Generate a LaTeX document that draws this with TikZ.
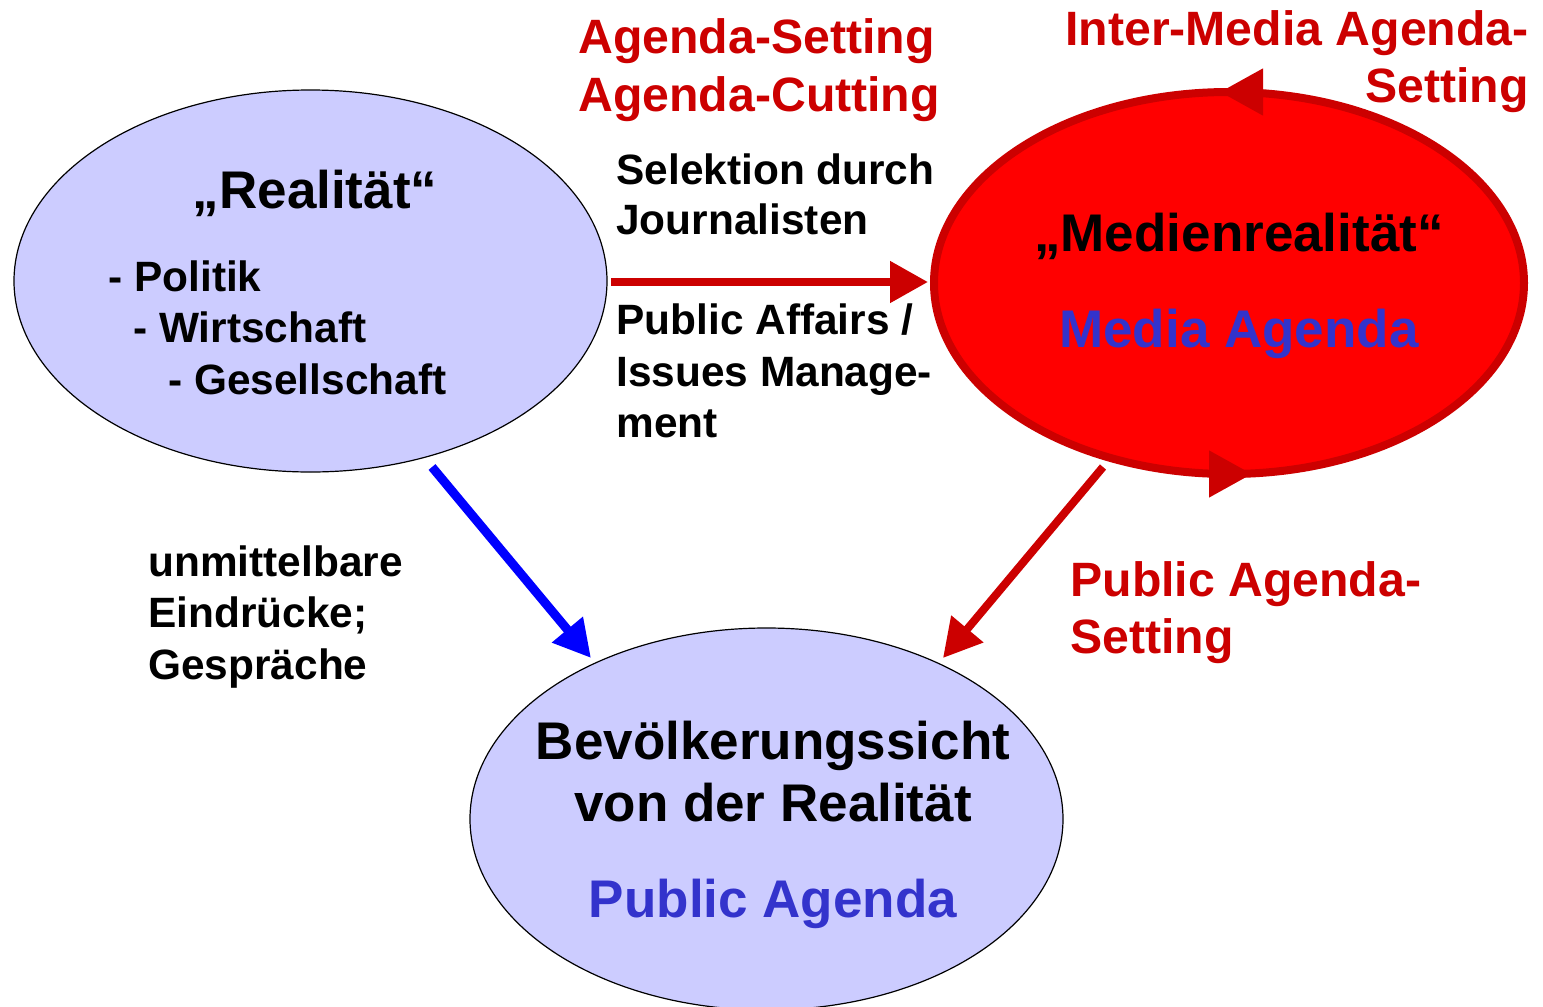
\documentclass[tikz,border=0pt]{standalone}
\usepackage{fontspec}
\setmainfont{Liberation Sans}
\usetikzlibrary{shapes.geometric,arrows.meta}
\definecolor{lav}{HTML}{CCCCFF}
\definecolor{dred}{HTML}{CC0000}
\definecolor{bred}{HTML}{FF0000}
\definecolor{tblue}{HTML}{3333CC}
\definecolor{abl}{HTML}{0000FF}
\begin{document}
\begin{tikzpicture}[x=0.5pt,y=-0.5pt,
  lbl/.style={font=\fontsize{21.2}{25}\selectfont\bfseries, inner sep=0, anchor=base west},
  rlbl/.style={font=\fontsize{24.1}{29}\selectfont\bfseries, text=dred, inner sep=0},
  big/.style={font=\fontsize{26.5}{31}\selectfont\bfseries, inner sep=0, anchor=base},
  oval/.style={ellipse, draw=black, line width=0.6pt, fill=lav, minimum width=296.5pt, minimum height=191pt, inner sep=0},
  medoval/.style={ellipse, draw=dred, line width=4pt, fill=bred, minimum width=295pt, minimum height=191pt, inner sep=0},
  redarrow/.style={draw=dred, line width=4pt, -{Triangle[length=19pt,width=20pt]}},
  bluearrow/.style={draw=abl, line width=4.5pt, -{Triangle[length=18.5pt,width=19pt]}},
  looparrow/.style={draw=dred, line width=4pt, -{Triangle[length=21.5pt,width=22.5pt]}}
]
\useasboundingbox (0,0) rectangle (1543,1007);
\clip (0,0) rectangle (1543,1007);

% ellipses
\node[oval] (real) at (310.5,281) {};
\node[oval] (pop) at (766.5,819) {};
\node[medoval] (med) at (1229,283) {};

% loop arrowheads on media ellipse
\draw[looparrow] ([shift={(34,-191)}]med.center) -- ([shift={(-9,-191)}]med.center);
\draw[looparrow] ([shift={(-18,191)}]med.center) -- ([shift={(23,191)}]med.center);

% connectors
\draw[redarrow] ([shift={(300.5,1)}]real.center) -- ([shift={(-301,-1)}]med.center);
\draw[bluearrow] ([shift={(121.5,186)}]real.center) -- ([shift={(-175.5,-161)}]pop.center);
\draw[redarrow] ([shift={(-126,184)}]med.center) -- ([shift={(176.5,-161)}]pop.center);

% red labels
\node[rlbl, anchor=base west] (as) at (578,53) {Agenda-Setting};
\node[rlbl, anchor=base west] (ac) at (578,111) {Agenda-Cutting};
\node[rlbl, anchor=base east] (im1) at (1529,45) {Inter-Media Agenda-};
\node[rlbl, anchor=base east] (im2) at (1529,102) {Setting};
\node[rlbl, anchor=base west] (pa1) at (1070,596) {Public Agenda-};
\node[rlbl, anchor=base west] (pa2) at (1070,653) {Setting};

% black labels
\node[lbl] (s1) at (616,184) {Selektion durch};
\node[lbl] (s2) at (616,234) {Journalisten};
\node[lbl] (p1) at (616,334) {Public Affairs /};
\node[lbl] (p2) at (616,386) {Issues Manage-};
\node[lbl] (p3) at (616,437) {ment};
\node[lbl] (u1) at (148,576) {unmittelbare};
\node[lbl] (u2) at (148,627) {Eindrücke;};
\node[lbl] (u3) at (148,679) {Gespräche};

% Realität
\node[big] (rt) at (315,208) {„Realität“};
\node[lbl] (r1) at (108,291) {- Politik};
\node[lbl] (r2) at (133,342) {- Wirtschaft};
\node[lbl] (r3) at (168,394) {- Gesellschaft};

% Medienrealität
\node[big] (mt) at (1239,251) {„Medienrealität“};
\node[big, text=tblue] (ma) at (1239,347) {Media Agenda};

% Bevölkerung
\node[big] (b1) at (773,759) {Bevölkerungssicht};
\node[big] (b2) at (773,821) {von der Realität};
\node[big, text=tblue] (b3) at (773,917) {Public Agenda};
\end{tikzpicture}
\end{document}
